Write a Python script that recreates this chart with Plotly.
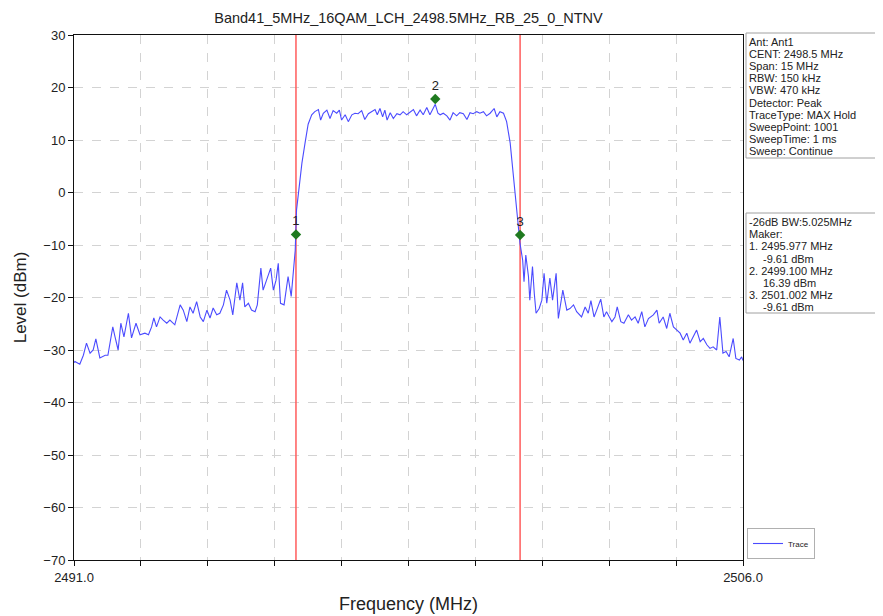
import plotly.graph_objects as go

# ---------------- data ----------------
freq_mhz = [
    2491.00, 2491.02, 2491.13, 2491.21, 2491.28, 2491.36, 2491.43, 2491.49, 2491.58, 2491.70,
    2491.76, 2491.87, 2491.92, 2491.99, 2492.05, 2492.12, 2492.22, 2492.29, 2492.39, 2492.48,
    2492.59, 2492.67, 2492.74, 2492.79, 2492.85, 2492.93, 2493.00, 2493.08, 2493.15, 2493.26,
    2493.38, 2493.45, 2493.53, 2493.60, 2493.67, 2493.75, 2493.83, 2493.90, 2493.98, 2494.05,
    2494.12, 2494.20, 2494.27, 2494.35, 2494.42, 2494.50, 2494.56, 2494.65, 2494.72, 2494.78,
    2494.83, 2494.91, 2494.98, 2495.06, 2495.11, 2495.19, 2495.24, 2495.32, 2495.41, 2495.47,
    2495.53, 2495.58, 2495.63, 2495.71, 2495.80, 2495.87, 2495.90, 2495.96, 2495.99, 2496.05,
    2496.11, 2496.18, 2496.25, 2496.33, 2496.40, 2496.48,
    2496.53, 2496.59, 2496.67, 2496.74, 2496.81, 2496.89, 2496.95, 2497.00, 2497.08, 2497.15,
    2497.23, 2497.30, 2497.37, 2497.45, 2497.52, 2497.60, 2497.67, 2497.75, 2497.80, 2497.86,
    2497.92, 2497.97, 2498.02, 2498.09, 2498.16, 2498.24, 2498.31, 2498.38, 2498.46, 2498.53,
    2498.61, 2498.68, 2498.76, 2498.83, 2498.91, 2498.98, 2499.10, 2499.16, 2499.21, 2499.28,
    2499.36, 2499.43, 2499.50, 2499.58, 2499.65, 2499.73, 2499.81, 2499.88, 2499.95, 2500.03,
    2500.10, 2500.18, 2500.25, 2500.33, 2500.42, 2500.48, 2500.55, 2500.63, 2500.70, 2500.78,
    2500.85, 2500.93, 2501.00,
    2501.06, 2501.09, 2501.13, 2501.19, 2501.22, 2501.28, 2501.32, 2501.36, 2501.43, 2501.49,
    2501.54, 2501.60, 2501.67, 2501.73, 2501.81, 2501.86, 2501.96, 2502.05, 2502.12, 2502.20,
    2502.27, 2502.38, 2502.46, 2502.53, 2502.59, 2502.66, 2502.72, 2502.81, 2502.88, 2502.94,
    2503.06, 2503.13, 2503.18, 2503.26, 2503.33, 2503.43, 2503.50, 2503.58, 2503.65, 2503.73,
    2503.80, 2503.88, 2503.99, 2504.07, 2504.12, 2504.21, 2504.29, 2504.36, 2504.44, 2504.51,
    2504.59, 2504.66, 2504.74, 2504.81, 2504.89, 2504.96, 2505.04, 2505.11, 2505.19, 2505.26,
    2505.33, 2505.41, 2505.48, 2505.55, 2505.62, 2505.69, 2505.78, 2505.84, 2505.92, 2505.97,
    2506.00,
]
level_dbm = [
    -32.4, -32.2, -32.7, -31.0, -28.7, -30.6, -30.0, -27.9, -31.5, -31.0,
    -31.0, -25.6, -27.5, -30.0, -24.9, -27.5, -23.0, -27.7, -24.9, -27.1,
    -26.8, -27.1, -25.6, -23.9, -25.6, -23.7, -24.3, -24.9, -24.3, -25.2,
    -21.4, -22.4, -24.6, -21.8, -23.0, -20.8, -23.7, -24.6, -22.4, -23.9,
    -22.0, -23.3, -23.0, -21.4, -18.6, -20.5, -23.3, -17.2, -20.5, -17.2,
    -21.8, -21.1, -22.4, -22.7, -21.4, -14.4, -18.6, -16.7, -14.4, -18.6,
    -16.7, -13.5, -21.1, -21.4, -16.0, -19.8, -16.3, -11.0, -3.3, 1.1,
    5.6, 9.4, 13.0, 14.8, 15.4, 15.8,
    13.8, 15.1, 15.7, 14.1, 15.6, 15.1, 15.7, 13.8, 14.8, 13.5,
    14.8, 15.1, 15.0, 15.6, 13.9, 15.0, 15.4, 15.8, 14.8, 16.0,
    14.4, 15.7, 13.8, 15.2, 14.1, 15.0, 14.8, 15.4, 14.8, 15.2,
    15.8, 14.6, 15.7, 14.8, 16.2, 14.8, 16.8, 15.1, 14.8, 15.1,
    14.6, 13.8, 15.2, 14.6, 15.2, 15.0, 13.9, 15.2, 15.0, 15.4,
    15.1, 15.4, 14.6, 15.1, 16.0, 14.4, 15.4, 15.1, 13.5, 9.4,
    3.0, -3.3, -9.7,
    -12.9, -17.0, -11.9, -16.0, -20.5, -14.1, -19.2, -23.0, -22.1, -20.5,
    -15.4, -21.1, -16.3, -20.5, -15.4, -24.0, -18.6, -22.4, -22.1, -21.4,
    -22.7, -23.7, -21.8, -23.0, -20.6, -23.7, -22.4, -20.3, -23.7, -22.7,
    -24.6, -23.7, -21.8, -24.6, -24.9, -23.3, -24.3, -23.7, -24.9, -22.7,
    -25.6, -24.0, -23.3, -22.4, -24.9, -23.7, -25.9, -23.0, -25.6, -26.2,
    -26.8, -28.1, -26.8, -28.7, -27.5, -26.2, -28.4, -27.8, -29.0, -29.7,
    -29.4, -30.0, -23.7, -30.6, -30.3, -31.3, -27.8, -31.6, -31.9, -31.3,
    -32.0,
]

marker_freq = [2495.977, 2499.100, 2501.002]
marker_level = [-8.0, 17.8, -8.1]
marker_ids = ["1", "2", "3"]

bw_line_freq = [2495.977, 2501.002]

x_tick_vals = [2491.0, 2492.5, 2494.0, 2495.5, 2497.0, 2498.5, 2500.0, 2501.5, 2503.0, 2504.5, 2506.0]
x_tick_text = ["2491.0", "", "", "", "", "", "", "", "", "", "2506.0"]
y_tick_vals = [-70, -60, -50, -40, -30, -20, -10, 0, 10, 20, 30]

title_text = "Band41_5MHz_16QAM_LCH_2498.5MHz_RB_25_0_NTNV"

info_lines = [
    "Ant: Ant1", "CENT: 2498.5 MHz", "Span: 15 MHz", "RBW: 150 kHz", "VBW: 470 kHz",
    "Detector: Peak", "TraceType: MAX Hold", "SweepPoint: 1001", "SweepTime: 1 ms",
    "Sweep: Continue",
]
maker_lines = [
    ("-26dB BW:5.025MHz", 0), ("Maker:", 0), ("1. 2495.977 MHz", 0), ("-9.61 dBm", 1),
    ("2. 2499.100 MHz", 0), ("16.39 dBm", 1), ("3. 2501.002 MHz", 0), ("-9.61 dBm", 1),
]

# ---------------- geometry ----------------
# The page body has an 8 px margin, so the figure is drawn 8 px right/down
# of the window corner; coordinates below are given in window pixels.
OFF = 8
W, H = 883 - OFF, 616 - OFF
WL, WR, WT, WB = 74, 743, 35, 560          # plot area in window pixels
PL, PR, PT, PB = WL - OFF, WR - OFF, WT - OFF, WB - OFF


def px(xw):
    return (xw - WL) / (WR - WL)


def py(yw):
    return (WB - yw) / (WB - WT)


FONT = "Liberation Sans, Arial, sans-serif"

fig = go.Figure()

for f in bw_line_freq:
    fig.add_trace(go.Scatter(
        x=[f, f], y=[-70, 30], mode="lines",
        line=dict(color="#ff5c5c", width=1.5),
        showlegend=False, hoverinfo="skip",
    ))

fig.add_trace(go.Scatter(
    x=freq_mhz, y=level_dbm, mode="lines", name="Trace",
    line=dict(color="#4b4bff", width=1.1),
))

fig.add_trace(go.Scatter(
    x=marker_freq, y=marker_level, mode="markers+text",
    text=marker_ids, textposition="top center",
    textfont=dict(size=13, color="#222", family=FONT),
    marker=dict(symbol="diamond", size=8, color="#1f7a1f"),
    showlegend=False, hoverinfo="skip",
))

INFO_FONT = dict(size=11, color="#222", family=FONT)
annotations = []
for i, t in enumerate(info_lines):
    annotations.append(dict(
        xref="paper", yref="paper", x=px(748), y=py(41.5 + 12.2 * i),
        xanchor="left", yanchor="middle", text=t, showarrow=False, borderpad=0,
        font=INFO_FONT,
    ))
for i, (t, indent) in enumerate(maker_lines):
    annotations.append(dict(
        xref="paper", yref="paper", x=px(748 + 14 * indent), y=py(222 + 12.2 * i),
        xanchor="left", yanchor="middle", text=t, showarrow=False, borderpad=0,
        font=INFO_FONT,
    ))

shapes = [
    dict(type="rect", xref="paper", yref="paper", x0=px(746), x1=px(881.5), y0=py(158), y1=py(33),
         line=dict(color="#a0a0a0", width=1), fillcolor="rgba(0,0,0,0)"),
    dict(type="rect", xref="paper", yref="paper", x0=px(746), x1=px(881.5), y0=py(313), y1=py(213),
         line=dict(color="#a0a0a0", width=1), fillcolor="rgba(0,0,0,0)"),
]

axis_common = dict(
    showgrid=True, gridcolor="#d3d3d3", griddash="dash", gridwidth=1,
    showline=True, linecolor="#111", linewidth=1, mirror=True,
    ticks="outside", ticklen=5, tickcolor="#111", zeroline=False,
    tickfont=dict(size=13, color="#222", family=FONT),
)

fig.update_layout(
    template="none",
    width=W, height=H,
    margin=dict(l=PL, r=W - PR, t=PT, b=H - PB, pad=0),
    paper_bgcolor="white", plot_bgcolor="white",
    font=dict(family=FONT, color="#222"),
    title=dict(text=title_text, xref="paper", x=0.5, xanchor="center",
               yref="container", y=1 - (18 - OFF) / H, yanchor="middle",
               font=dict(size=14.5, color="#222", family=FONT)),
    xaxis=dict(range=[2491, 2506], tickvals=x_tick_vals, ticktext=x_tick_text,
               title=dict(text="Frequency (MHz)", font=dict(size=18, family=FONT), standoff=13),
               **axis_common),
    yaxis=dict(range=[-70, 30], tickvals=y_tick_vals,
               title=dict(text="Level (dBm)", font=dict(size=17, family=FONT), standoff=12),
               **axis_common),
    legend=dict(x=px(747), y=py(559), xanchor="left", yanchor="bottom",
                bordercolor="#b0b0b0", borderwidth=1, bgcolor="white",
                font=dict(size=8, color="#222", family=FONT), itemwidth=30),
    showlegend=True,
    annotations=annotations,
    shapes=shapes,
)

fig.write_html("out.html")
